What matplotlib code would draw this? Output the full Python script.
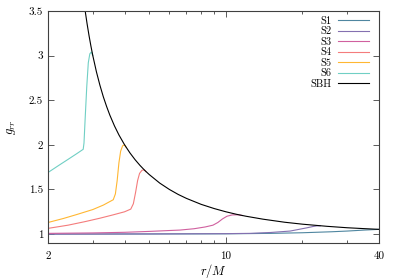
import matplotlib
matplotlib.use("Agg")
import matplotlib.pyplot as plt
from matplotlib.ticker import FixedLocator, NullFormatter, FixedFormatter

plt.rcParams["font.family"] = "serif"
plt.rcParams["font.serif"] = ["cmr10", "DejaVu Serif"]
plt.rcParams["mathtext.fontset"] = "cm"
plt.rcParams["axes.formatter.use_mathtext"] = True

# Valeurs (r/M, g_rr) - chaque etoile s'arrete ou elle rejoint SBH
s1_r = [2.0, 5.0, 10.0, 15.0, 20.0, 26.0, 30.0, 35.0, 40.0]
s1_g = [1.0, 1.001, 1.003, 1.008, 1.015, 1.026, 1.034, 1.045, 1.053]

s2_r = [2.0, 5.0, 10.0, 12.4, 15.0, 17.9, 20.8, 22.0, 22.8, 23.5]
s2_g = [1.0, 1.002, 1.005, 1.008, 1.018, 1.034, 1.07, 1.085, 1.092, 1.093]

s3_r = [2.0, 3.0, 4.0, 5.0, 6.0, 6.6, 7.5, 8.3, 8.9, 9.3, 9.7, 10.1, 10.6, 11.2, 11.6]
s3_g = [1.008, 1.013, 1.02, 1.03, 1.04, 1.045, 1.06, 1.08, 1.10, 1.13, 1.17, 1.20, 1.215, 1.216, 1.208]

s4_r = [2.0, 2.4, 2.8, 3.2, 3.6, 4.0, 4.23, 4.33, 4.42, 4.5, 4.58, 4.68, 4.78, 4.85]
s4_g = [1.064, 1.10, 1.14, 1.178, 1.215, 1.25, 1.28, 1.34, 1.47, 1.60, 1.68, 1.715, 1.72, 1.70]

s5_r = [2.0, 2.3, 2.6, 3.0, 3.3, 3.61, 3.68, 3.74, 3.80, 3.86, 3.93, 4.0, 4.05]
s5_g = [1.13, 1.175, 1.22, 1.275, 1.325, 1.385, 1.45, 1.60, 1.80, 1.93, 1.99, 2.0, 1.975]

s6_r = [2.0, 2.2, 2.4, 2.6, 2.75, 2.77, 2.80, 2.84, 2.88, 2.92, 2.96, 3.0]
s6_g = [1.69, 1.768, 1.838, 1.903, 1.95, 2.02, 2.30, 2.65, 2.92, 3.02, 3.04, 3.0]

sbh_r = [2.75, 2.8, 2.85, 2.9, 2.95, 3.0, 3.1, 3.2, 3.3, 3.4, 3.5, 3.65, 3.8, 4.0, 4.2, 4.4, 4.6, 4.8,
         5.0, 5.5, 6.0, 6.5, 7.0, 8.0, 9.0, 10.0, 11.0, 12.0, 14.0, 17.0, 20.0, 25.0, 30.0, 35.0, 40.0]
sbh_g = [3.667, 3.5, 3.353, 3.222, 3.105, 3.0, 2.818, 2.667, 2.538, 2.429, 2.333, 2.212, 2.111, 2.0,
         1.909, 1.833, 1.769, 1.714, 1.667, 1.571, 1.50, 1.444, 1.40, 1.333, 1.286, 1.25, 1.222,
         1.20, 1.167, 1.133, 1.111, 1.087, 1.071, 1.061, 1.053]

series = [
    ("S1", s1_r, s1_g, "#4f86a0"),
    ("S2", s2_r, s2_g, "#8470b0"),
    ("S3", s3_r, s3_g, "#d0609f"),
    ("S4", s4_r, s4_g, "#f47c7c"),
    ("S5", s5_r, s5_g, "#ffb732"),
    ("S6", s6_r, s6_g, "#70cfc4"),
    ("SBH", sbh_r, sbh_g, "black"),
]

fig = plt.figure(figsize=(3.99, 2.79), dpi=100)
ax = fig.add_axes([0.1203, 0.129, 0.8297, 0.8316])

for name, r, g, c in series:
    ax.plot(r, g, color=c, lw=0.8, label=name)

ax.set_xscale("log")
ax.set_xlim(2, 40)
ax.set_ylim(0.9, 3.5)

ax.xaxis.set_major_locator(FixedLocator([2, 10, 40]))
ax.xaxis.set_major_formatter(FixedFormatter(["2", "10", "40"]))
ax.xaxis.set_minor_locator(FixedLocator([3, 4, 5, 6, 7, 8, 9, 20, 30]))
ax.xaxis.set_minor_formatter(NullFormatter())
ax.set_yticks([1, 1.5, 2, 2.5, 3, 3.5])
ax.set_yticklabels(["1", "1.5", "2", "2.5", "3", "3.5"])

ax.tick_params(which="both", direction="in", top=True, right=True, labelsize=8, color="#404040")
ax.tick_params(which="major", length=4, width=0.6)
ax.tick_params(which="minor", length=2.5, width=0.6)
ax.tick_params(axis="x", which="major", pad=6)
for sp in ax.spines.values():
    sp.set_color("#404040")
    sp.set_linewidth(0.8)

ax.set_xlabel(r"$r/M$", fontsize=9, labelpad=1)
ax.set_ylabel(r"$g_{rr}$", fontsize=9, labelpad=8)

ax.legend(loc="upper right", frameon=False, markerfirst=False, fontsize=7.5,
          handlelength=3.0, handletextpad=0.6, labelspacing=0.1,
          borderaxespad=0.1, bbox_to_anchor=(0.985, 1.0))

fig.savefig("out.png", dpi=100)
